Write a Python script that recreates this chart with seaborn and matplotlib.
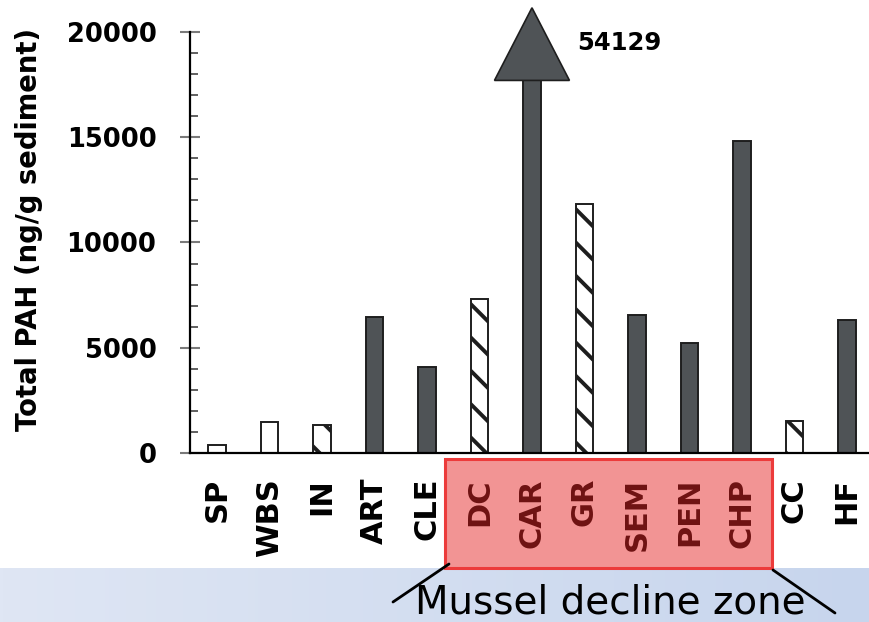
import numpy as np
import pandas as pd
import seaborn as sns
import matplotlib
matplotlib.use("Agg")
import matplotlib.pyplot as plt
from matplotlib.patches import Rectangle, Polygon
from matplotlib.lines import Line2D
from matplotlib.ticker import MultipleLocator

# Total PAH in sediment by site (ng/g)
sites = ["SP", "WBS", "IN", "ART", "CLE", "DC", "CAR", "GR", "SEM", "PEN", "CHP", "CC", "HF"]
total_pah = [380, 1460, 1310, 6480, 4100, 7320, 54129, 11830, 6570, 5210, 14840, 1500, 6330]
site_style = ["open", "open", "hatch", "solid", "solid", "hatch", "solid",
              "hatch", "solid", "solid", "solid", "hatch", "solid"]
decline_zone = ["DC", "CAR", "GR", "SEM", "PEN", "CHP"]
y_ticks = [0, 5000, 10000, 15000, 20000]

sns.set_theme(style="white")
plt.rcParams["font.family"] = ["DejaVu Sans"]
plt.rcParams["text.color"] = "black"
plt.rcParams["axes.labelcolor"] = "black"
plt.rcParams["xtick.color"] = "black"
plt.rcParams["ytick.color"] = "black"
plt.rcParams["hatch.linewidth"] = 2.8
plt.rcParams["hatch.color"] = "black"

DARK = "#4f5356"
W, H = 869, 622
fig = plt.figure(figsize=(W / 100, H / 100), dpi=100)
fig.patch.set_facecolor("white")

ax = fig.add_axes([190 / W, (H - 453) / H, (W - 190) / W, 421 / H])

df = pd.DataFrame({"site": sites, "pah": total_pah})
sns.barplot(data=df, x="site", y="pah", order=sites, color=DARK, width=0.33,
            edgecolor="#1e1e1e", linewidth=1.4, saturation=1, ax=ax, errorbar=None)

for patch, style in zip(ax.patches, site_style):
    if style == "solid":
        patch.set_facecolor(DARK)
    elif style == "open":
        patch.set_facecolor("white")
    else:
        patch.set_facecolor("white")
        patch.set_hatch("\\")

ax.set_xlim(-0.514, 12.42)
ax.set_ylim(0, 20000)
ax.set_yticks(y_ticks)
ax.set_yticklabels([str(t) for t in y_ticks])
ax.yaxis.set_minor_locator(MultipleLocator(1000))
ax.tick_params(axis="y", which="major", direction="inout", length=14.4, width=1.5,
               color="#7a7a7a", labelcolor="black", pad=17, labelsize=18.5, left=True)
ax.tick_params(axis="y", which="minor", direction="in", length=5.5, width=1.2,
               color="#444444", left=True)
for lab in ax.get_yticklabels():
    lab.set_fontweight("bold")

ax.tick_params(axis="x", length=0, pad=18, labelsize=22)
ax.set_xticks(range(len(sites)))
ax.set_xticklabels(sites, rotation=90, fontweight="bold")
for lab in ax.get_xticklabels():
    lab.set_color("#6e1212" if lab.get_text() in decline_zone else "black")

ax.set_xlabel("")
ax.set_ylabel("Total PAH (ng/g sediment)", fontsize=19.8, fontweight="bold",
              color="black")
ax.yaxis.set_label_coords(-147 / (W - 190), 0.532)

for side in ["top", "right"]:
    ax.spines[side].set_visible(False)
for side in ["left", "bottom"]:
    ax.spines[side].set_color("black")
    ax.spines[side].set_linewidth(1.6)

# Off-scale bar: arrowhead above the clipped bar plus its value
big = int(np.argmax(total_pah))
arrow_half, arrow_base, arrow_tip = 0.714, 17700, 21150
ax.add_patch(Polygon([[big - arrow_half, arrow_base], [big + arrow_half, arrow_base],
                      [big, arrow_tip]], closed=True, facecolor=DARK,
                     edgecolor="#1e1e1e", linewidth=1.2, clip_on=False, zorder=5))
ax.text(big + 0.87, 19500, f"{total_pah[big]}", fontsize=17.5, fontweight="bold",
        ha="left", va="center", color="black")

# Highlight box behind the decline-zone site labels
ax.add_patch(Rectangle((445 / W, (H - 568) / H), 327 / W, 109 / H,
                       transform=fig.transFigure, facecolor="#f29494",
                       edgecolor="#ec3b3b", linewidth=2.2, clip_on=False, zorder=0))

# Caption band along the bottom
band = fig.add_axes([0, 0, 1, 54 / H], zorder=-1)
grad = np.linspace(0, 1, 256)[None, :, None]
left_c = np.array([223, 230, 244]) / 255
right_c = np.array([199, 213, 237]) / 255
band.imshow(left_c + (right_c - left_c) * grad, aspect="auto", extent=[0, 1, 0, 1])
band.set_axis_off()

fig.add_artist(Line2D([393 / W, 449 / W], [(H - 602) / H, (H - 564) / H],
                      color="black", linewidth=2.0))
fig.add_artist(Line2D([773 / W, 835 / W], [(H - 570) / H, (H - 613) / H],
                      color="black", linewidth=2.0))
fig.text(610 / W, 0.5 / H, "Mussel decline zone", fontsize=28,
         ha="center", va="bottom", color="black")

fig.savefig("out.png", dpi=100)
